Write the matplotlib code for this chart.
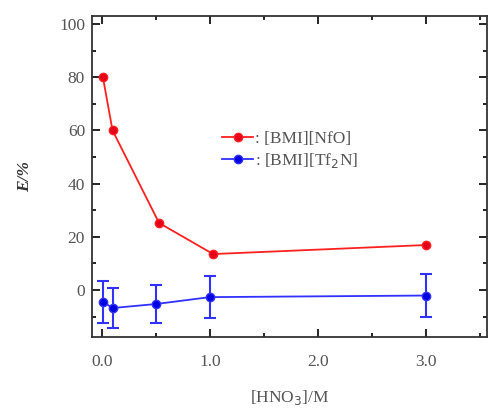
import matplotlib.pyplot as plt
from matplotlib.ticker import MultipleLocator

plt.rcParams['font.family'] = ['Liberation Serif', 'DejaVu Serif']

# Data
hno3_nfo = [0.01, 0.1, 0.53, 1.03, 3.0]
e_nfo = [80.2, 60.0, 25.2, 13.5, 16.9]

hno3_tf2n = [0.01, 0.1, 0.5, 1.0, 3.0]
e_tf2n = [-4.4, -6.8, -5.3, -2.7, -2.1]
err_tf2n = [7.9, 7.4, 7.3, 7.8, 8.0]

fig = plt.figure(figsize=(4.88, 4.12), dpi=100)
ax = fig.add_axes([0.1885, 0.182, 0.809, 0.779])

ax.plot(hno3_nfo, e_nfo, color="#ff2020", marker="o", markersize=6,
        markerfacecolor="#e8001a", markeredgecolor="#ff2020", lw=1.3,
        label=": [BMI][NfO]")
ax.errorbar(hno3_tf2n, e_tf2n, yerr=err_tf2n, color="#3030ff", fmt="none",
            capsize=4, elinewidth=1.5, capthick=1.5)
ax.plot(hno3_tf2n, e_tf2n, color="#3030ff", marker="o", markersize=6,
        markerfacecolor="#0000e0", lw=1.3, label=": [BMI][Tf$_2$N]")

ax.set_xlim(-0.09, 3.56)
ax.set_ylim(-17.7, 103)
ax.set_xticks([0, 1, 2, 3])
ax.set_xticklabels(["0.0", "1.0", "2.0", "3.0"])
ax.xaxis.set_minor_locator(MultipleLocator(0.5))
ax.set_yticks([0, 20, 40, 60, 80, 100])
ax.yaxis.set_minor_locator(MultipleLocator(10))
ax.tick_params(which="both", direction="in", top=True, right=True,
               labelsize=12.5, labelcolor="#555555", width=1.2)
ax.tick_params(which="major", length=6)
ax.tick_params(which="minor", length=3)
ax.tick_params(axis="x", which="major", pad=12)
ax.tick_params(axis="y", which="major", pad=5)
for s in ax.spines.values():
    s.set_linewidth(1.3)
    s.set_color("#333333")

ax.set_xlabel("[HNO$_3$]/M", fontsize=12.5, color="#555555", labelpad=13)
ax.set_ylabel("E/%", fontsize=12.5, fontweight="bold", fontstyle="italic",
              color="#333333", labelpad=19)

ax.legend(loc="upper left", bbox_to_anchor=(0.29, 0.69), frameon=False,
          fontsize=12.5, handlelength=1.8, handletextpad=0.1,
          labelspacing=0.2, labelcolor="#555555")

plt.savefig("out.png", dpi=100)
